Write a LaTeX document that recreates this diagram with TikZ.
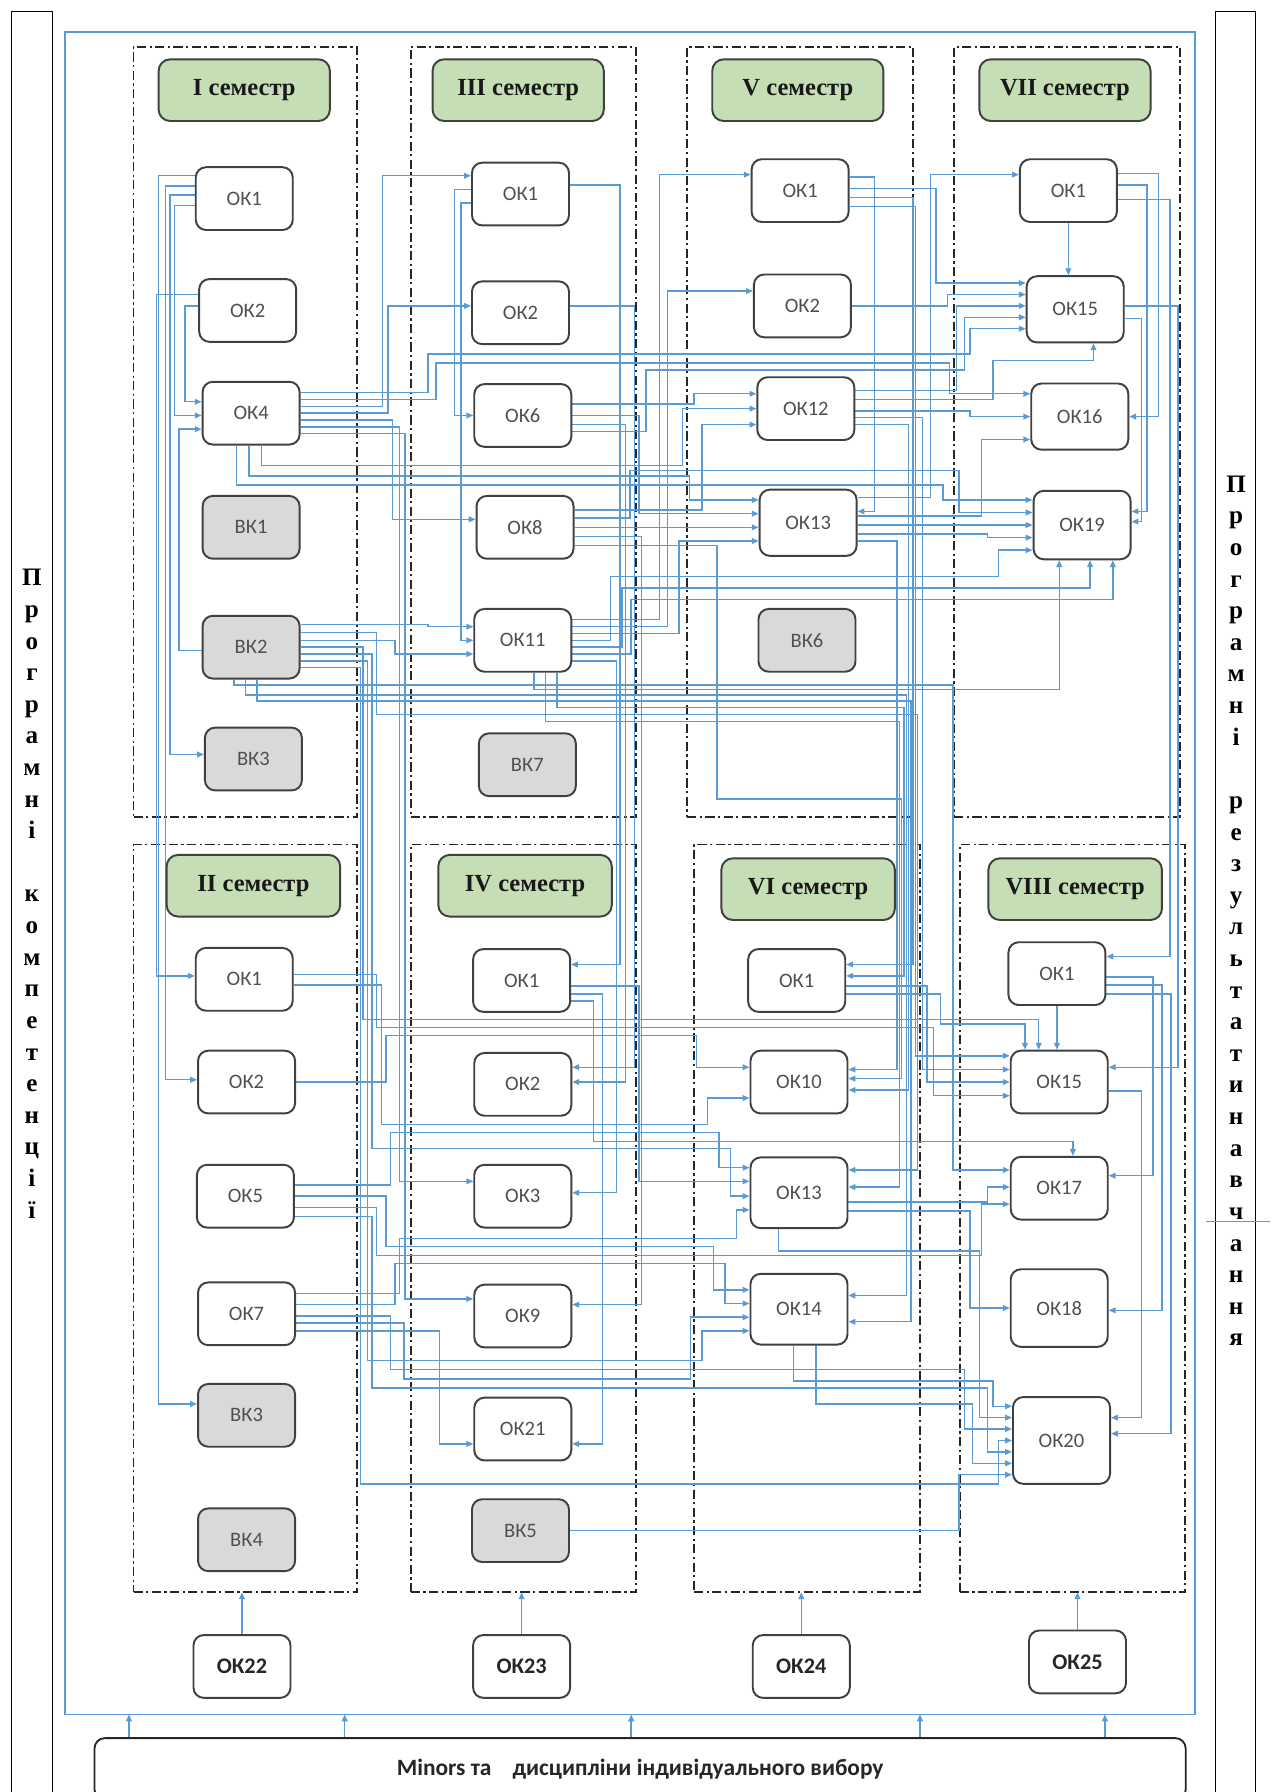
\documentclass[tikz,border=0pt]{standalone}
\usepackage{fontspec}
\setmainfont{Liberation Serif}
\newfontfamily\calfont{Carlito}
\usetikzlibrary{arrows.meta,calc}
\definecolor{lnblue}{HTML}{5B9BD5}
\definecolor{nodegray}{HTML}{D9D9D9}
\definecolor{semgreen}{HTML}{C5DEB5}
\definecolor{edgegray}{HTML}{404040}
\definecolor{txtgray}{HTML}{505050}
\pgfdeclarelayer{boxes}
\pgfdeclarelayer{lines}
\pgfsetlayers{boxes,lines,main}
% connector macros (display coordinates, y downwards)
\newcommand\cR[5]{\draw[con] let \p1=($(#1)+(0,#2)$), \p2=($(#4)+(0,#5)$) in (\p1) -- (#3pt,\y1) -- (#3pt,\y2) -- (\p2);}
\newcommand\cRRR[7]{\draw[con] let \p1=($(#1)+(0,#2)$), \p2=($(#6)+(0,#7)$) in (\p1) -- (#3pt,\y1) -- (#3pt,-#4pt) -- (#5pt,-#4pt) -- (#5pt,\y2) -- (\p2);}
\newcommand\cU[6]{\draw[con] let \p1=($(#1)+(0,#2)$), \p2=($(#5)+(#6,0)$) in (\p1) -- (#3pt,\y1) -- (#3pt,-#4pt) -- (\x2,-#4pt) -- (\p2);}
\newcommand\cBo[6]{\draw[con] let \p1=($(#1)+(#2,0)$), \p2=($(#5)+(0,#6)$) in (\p1) -- (\x1,-#3pt) -- (#4pt,-#3pt) -- (#4pt,\y2) -- (\p2);}
\newcommand\cBU[5]{\draw[con] let \p1=($(#1)+(#2,0)$), \p2=($(#4)+(#5,0)$) in (\p1) -- (\x1,-#3pt) -- (\x2,-#3pt) -- (\p2);}
\begin{document}
\begin{tikzpicture}[x=1pt,y=-1pt,
  ok/.style={draw=edgegray, line width=1.7pt, rounded corners=9pt, fill=white, minimum width=85pt, minimum height=55pt, inner sep=0pt, font=\calfont\fontsize{18}{20}\selectfont, text=txtgray},
  vk/.style={ok, fill=nodegray},
  okb/.style={ok, font=\calfont\bfseries\fontsize{19.5}{21}\selectfont, text=black!85},
  sem/.style={draw=edgegray, line width=1.7pt, rounded corners=10pt, fill=semgreen, minimum width=150pt, minimum height=54pt, inner sep=0pt, font=\bfseries\fontsize{21.5}{24}\selectfont, text=black!90},
  dbox/.style={draw=black!85, line width=1.4pt, dash pattern=on 8pt off 3pt on 2pt off 3pt, inner sep=0pt, outer sep=0pt, anchor=north west},
  con/.style={draw=lnblue, line width=1.25pt, -{Triangle[length=6pt,width=5pt]}},
  lin/.style={draw=lnblue, line width=1.25pt},
  vtxt/.style={font=\bfseries\fontsize{22}{27.7}\selectfont, align=center, inner sep=0pt, text=black},
]
\useasboundingbox (0,0) rectangle (1113,1570);
\begin{pgfonlayer}{boxes}
\fill[white] (0,0) rectangle (1113,1570);
\draw[line width=1.5pt] (10,10) rectangle (46,1580);
\draw[line width=1.5pt] (1065,10) rectangle (1100,1580);
\node[draw=lnblue, line width=1.3pt, minimum width=990pt, minimum height=1474pt, anchor=north west, inner sep=0pt, outer sep=0pt] (outer) at (57,28) {};
\node[dbox, minimum width=196pt, minimum height=675pt] (bI) at (117,41) {};
\node[dbox, minimum width=197pt, minimum height=675pt] (bIII) at (360,41) {};
\node[dbox, minimum width=198pt, minimum height=675pt] (bV) at (602,41) {};
\node[dbox, minimum width=198pt, minimum height=675pt] (bVII) at (836,41) {};
\node[dbox, minimum width=196pt, minimum height=655pt] (bII) at (117,740) {};
\node[dbox, minimum width=197pt, minimum height=655pt] (bIV) at (360,740) {};
\node[dbox, minimum width=198pt, minimum height=655pt] (bVI) at (608,740) {};
\node[dbox, minimum width=197pt, minimum height=655pt] (bVIII) at (841,740) {};
\end{pgfonlayer}

% side texts
\node[vtxt] (ltxt) at (28,783) {П\\р\\о\\г\\р\\а\\м\\н\\і\\\mbox{}\\к\\о\\м\\п\\е\\т\\е\\н\\ц\\і\\ї};
\node[vtxt] (rtxt) at (1083,798) {П\\р\\о\\г\\р\\а\\м\\н\\і\\\mbox{}\\р\\е\\з\\у\\л\\ь\\т\\а\\т\\и\\н\\а\\в\\ч\\а\\н\\н\\я};

% semester labels
\node[sem] (sI) at (214,79) {I семестр};
\node[sem] (sIII) at (454,79) {III семестр};
\node[sem] (sV) at (699,79) {V семестр};
\node[sem] (sVII) at (933,79) {VII семестр};
\node[sem, minimum width=152pt] (sII) at (222,776) {II семестр};
\node[sem, minimum width=152pt] (sIV) at (460,776) {IV семестр};
\node[sem, minimum width=152pt] (sVI) at (708,779) {VI семестр};
\node[sem, minimum width=152pt] (sVIII) at (942,779) {VIII семестр};

% semester I
\node[ok] (I1) at (214,174) {ОК1};
\node[ok] (I2) at (217,272) {ОК2};
\node[ok] (I4) at (220,362) {ОК4};
\node[vk] (IB1) at (220,462) {ВК1};
\node[vk] (IB2) at (220,567) {ВК2};
\node[vk] (IB3) at (222,665) {ВК3};
% semester III
\node[ok] (III1) at (456,170) {ОК1};
\node[ok] (III2) at (456,274) {ОК2};
\node[ok] (III6) at (458,364) {ОК6};
\node[ok] (III8) at (460,462) {ОК8};
\node[ok] (III11) at (458,561) {ОК11};
\node[vk] (IIIB7) at (462,670) {ВК7};
% semester V
\node[ok] (V1) at (701,167) {ОК1};
\node[ok] (V2) at (703,268) {ОК2};
\node[ok] (V12) at (706,358) {ОК12};
\node[ok, minimum height=58pt] (V13) at (708,458) {ОК13};
\node[vk] (VB6) at (707,561) {ВК6};
% semester VII
\node[ok] (VII1) at (936,167) {ОК1};
\node[ok, minimum height=58pt] (VII15) at (942,271) {ОК15};
\node[ok, minimum height=58pt] (VII16) at (946,365) {ОК16};
\node[ok, minimum height=60pt] (VII19) at (948,460) {ОК19};
% semester II
\node[ok] (II1) at (214,858) {ОК1};
\node[ok] (II2) at (216,948) {ОК2};
\node[ok] (II5) at (215,1048) {ОК5};
\node[ok] (II7) at (216,1151) {ОК7};
\node[vk] (IIB3) at (216,1240) {ВК3};
\node[vk] (IIB4) at (216,1349) {ВК4};
% semester IV
\node[ok] (IV1) at (457,859) {ОК1};
\node[ok] (IV2) at (458,950) {ОК2};
\node[ok] (IV3) at (458,1048) {ОК3};
\node[ok] (IV9) at (458,1153) {ОК9};
\node[ok] (IV21) at (458,1252) {ОК21};
\node[vk] (IVB5) at (456,1341) {ВК5};
% semester VI
\node[ok] (VI1) at (698,859) {ОК1};
\node[ok] (VI10) at (700,948) {ОК10};
\node[ok, minimum height=62pt] (VI13) at (700,1045) {ОК13};
\node[ok, minimum height=62pt] (VI14) at (700,1147) {ОК14};
% semester VIII
\node[ok] (VIII1) at (926,853) {ОК1};
\node[ok] (VIII15) at (928,948) {ОК15};
\node[ok] (VIII17) at (928,1041) {ОК17};
\node[ok, minimum height=68pt] (VIII18) at (928,1146) {ОК18};
\node[ok, minimum height=76pt] (VIII20) at (930,1262) {ОК20};
% bottom
\node[okb] (B22) at (212,1460) {ОК22};
\node[okb] (B23) at (457,1460) {ОК23};
\node[okb] (B24) at (702,1460) {ОК24};
\node[okb] (B25) at (944,1456) {ОК25};
\node[draw=black!85, line width=1.6pt, rounded corners=9pt, fill=white, minimum width=956pt, minimum height=54pt, anchor=north west, inner sep=0pt, font=\calfont\bfseries\fontsize{20.5}{22}\selectfont, text=black!85] (minors) at (82,1522) {Minors та\hspace{0.9em}дисципліни індивідуального вибору};

\coordinate (m1) at (113,0);
\coordinate (m2) at (302,0);
\coordinate (m3) at (553,0);
\coordinate (m4) at (806,0);
\coordinate (m5) at (968,0);
\coordinate (rl1) at (1057,1070);
\coordinate (rl2) at (1113,1070);

\begin{pgfonlayer}{lines}
% minors and bottom arrows
\foreach \m in {m1,m2,m3,m4,m5} {\draw[con] (\m |- minors.north) -- (\m |- outer.south);}
\draw[con] (B22.north) -- (B22.north |- bII.south);
\draw[con] (B23.north) -- (B23.north |- bIV.south);
\draw[con] (B24.north) -- (B24.north |- bVI.south);
\draw[con] (B25.north) -- (B25.north |- bVIII.south);
\draw[lin] (rl1) -- (rl2);

% column I, left channel
\cR{I1.west}{-20}{139}{IIB3.west}{-10}
\cR{I1.west}{-11}{145}{II2.west}{-2}
\cR{I1.west}{-3}{149}{IB3.west}{-4}
\cR{I1.west}{6}{153}{I4.west}{2}
\cR{I2.west}{-14}{137}{II1.west}{-3}
\cR{I2.west}{-4}{162}{I4.west}{-10}
\cR{IB2.west}{3}{157}{I4.west}{14}

% OK4 (I)
\cRRR{I4.east}{-18}{375}{310}{850}{VII15.west}{17}
\cRRR{I4.east}{-12}{382}{318}{832}{VII16.west}{-20}
\cR{I4.east}{-6}{335}{III1.west}{-16}
\cR{I4.east}{0}{340}{III2.west}{-6}
\cR{I4.east}{6}{344}{III8.west}{-7}
\cR{I4.east}{12}{350}{IV3.west}{-13}
\cR{I4.east}{18}{355}{IV9.west}{-15}
\cBo{I4.south}{9}{408}{598}{V12.west}{0}
\cBo{I4.south}{-2}{417}{604}{V13.west}{-20}
\cBo{I4.south}{-13}{425}{826}{VII19.west}{-22}

% semester III
\cR{III1.west}{-4}{398}{III6.west}{0}
\cR{III1.west}{8}{404}{III11.west}{0}
\cR{III1.east}{-8}{543}{IV1.east}{-14}
\cR{III2.east}{-6}{556}{IV2.east}{-15}
\cR{III6.east}{-10}{608}{V12.west}{-13}
\cR{III6.east}{0}{560}{V13.west}{-8}
\cR{III6.east}{8}{548}{IV2.east}{-2}
\cRRR{III6.east}{14}{566}{324}{845}{VII15.west}{7}
\cR{III8.east}{-15}{615}{V12.west}{14}
\cRRR{III8.east}{-8}{552}{412}{840}{VII19.west}{-11}
\cR{III8.east}{0}{620}{V13.west}{4}
\cR{III8.east}{8}{562}{IV9.east}{-10}
\cRRR{III8.east}{16}{628}{700}{790}{VI10.east}{-3}
\cR{III11.east}{-18}{578}{V1.west}{-14}
\cR{III11.east}{-12}{585}{V2.west}{-13}
\cR{III11.east}{-6}{595}{V13.west}{16}
\cRRR{III11.east}{0}{535}{505}{875}{VII19.west}{22}
\cU{III11.east}{6}{545}{515}{VII19.south}{7}
\cU{III11.east}{12}{553}{525}{VII19.south}{27}
\cR{III11.east}{18}{540}{IV3.east}{-3}
\cBU{III11.south}{10}{604}{VII19.south}{-20}
\cBo{III11.south}{30}{620}{792}{VI1.east}{-4}
\cBo{III11.south}{20}{632}{788}{VI13.east}{-5}

% VK2 (I)
\cR{IB2.east}{-20}{375}{III11.west}{-12}
\cRRR{IB2.east}{-13}{330}{626}{804}{VI13.east}{-20}
\cR{IB2.east}{-6}{346}{III11.west}{12}
\cU{IB2.east}{0}{318}{893}{VIII15.north}{-18}
\cRRR{IB2.east}{6}{326}{1006}{640}{VI13.west}{3}
\cRRR{IB2.east}{12}{322}{1192}{615}{VI14.west}{19}
\cRRR{IB2.east}{18}{316}{1300}{875}{VIII20.west}{0}
\cBo{IB2.south}{-15}{600}{835}{VIII17.west}{-16}
\cBo{IB2.south}{-5}{609}{794}{VI14.east}{-12}
\cBo{IB2.south}{5}{614}{798}{VI14.east}{11}

% semester V
\cR{V1.east}{-12}{766}{V13.east}{-10}
\cR{V1.east}{-2}{820}{VII15.west}{-23}
\cR{V1.east}{6}{800}{VI1.east}{-14}
\cR{V1.east}{14}{802}{VIII15.west}{-23}
\cR{V2.east}{0}{830}{VII15.west}{-13}
\cR{V12.east}{-16}{838}{VII15.west}{-3}
\cU{V12.east}{-8}{870}{316}{VII15.south}{16}
\cR{V12.east}{2}{850}{VII16.west}{0}
\cR{V12.east}{8}{808}{VIII15.west}{-11}
\cR{V12.east}{14}{796}{VI10.east}{7}
\cR{V13.east}{-22}{815}{VII1.west}{-14}
\cR{V13.east}{-6}{860}{VII16.west}{20}
\cR{V13.east}{2}{855}{VII19.west}{0}
\cR{V13.east}{10}{865}{VII19.west}{11}
\cR{V13.east}{16}{786}{VI10.east}{-11}

% semester VII
\draw[con] (VII1.south) -- (VII1.south |- VII15.north);
\cR{VII1.east}{-15}{1015}{VII16.east}{0}
\cR{VII1.east}{-5}{1005}{VII19.east}{-12}
\cR{VII1.east}{8}{1025}{VIII1.east}{-15}
\cR{VII15.east}{-3}{1032}{VIII15.east}{-13}
\cR{VII15.east}{8}{1000}{VII19.east}{-3}

% semester II
\cRRR{II1.east}{-4}{330}{900}{818}{VIII15.west}{12}
\cRRR{II1.east}{5}{334}{985}{620}{VI10.west}{14}
\cRRR{II2.east}{0}{338}{907}{610}{VI10.west}{-13}
\cRRR{II5.east}{-10}{342}{992}{630}{VI13.west}{-22}
\cRRR{II5.east}{0}{338}{1092}{625}{VI14.west}{-17}
\cRRR{II5.east}{10}{330}{1100}{860}{VIII17.west}{14}
\cRRR{II5.east}{18}{326}{1216}{865}{VIII20.west}{10}
\cRRR{II7.east}{-18}{350}{1085}{645}{VI13.west}{15}
\cRRR{II7.east}{-8}{346}{1107}{635}{VI14.west}{-5}
\cRRR{II7.east}{2}{342}{1200}{845}{VIII20.west}{-10}
\cRRR{II7.east}{8}{354}{1208}{605}{VI14.west}{7}
\cR{II7.east}{15}{385}{IV21.west}{13}

% semester IV
\cR{IV1.east}{5}{560}{VI13.west}{-10}
\cR{IV1.east}{12}{528}{IV21.east}{13}
\cU{IV1.east}{18}{520}{1000}{VIII17.north}{12}
\cR{IVB5.east}{0}{840}{VIII20.west}{30}

% semester VI
\cR{VI1.east}{5}{812}{VIII15.west}{0}
\cU{VI1.east}{12}{824}{897}{VIII15.north}{-30}
\cR{VI13.east}{8}{865}{VIII17.west}{-1}
\cR{VI13.east}{16}{850}{VIII18.west}{0}
\cBo{VI13.south}{-18}{1096}{858}{VIII20.west}{-20}
\cBo{VI14.south}{-5}{1210}{870}{VIII20.west}{-30}
\cBo{VI14.south}{15}{1230}{852}{VIII20.west}{20}

% semester VIII
\draw[con] (VIII1.south) -- (VIII1.south |- VIII15.north);
\cR{VIII1.east}{3}{1010}{VIII17.east}{-11}
\cR{VIII1.east}{10}{1018}{VIII18.east}{2}
\cR{VIII1.east}{18}{1026}{VIII20.east}{-6}
\cR{VIII15.east}{8}{1000}{VIII20.east}{-20}
\end{pgfonlayer}
\end{tikzpicture}
\end{document}
